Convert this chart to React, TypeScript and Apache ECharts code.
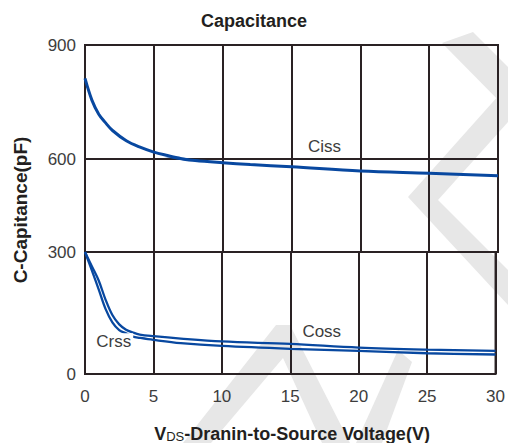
import React, { useEffect, useRef } from "react";
import * as echarts from "echarts";

// ---- data ----
const X_TICKS = [0, 5, 10, 15, 20, 25, 30];
const VOLT_CISS = [0, 0.5, 1, 1.5, 2, 3, 4, 5, 6, 7, 8, 10, 12, 15, 20, 25, 30];
const CISS = [812, 755, 718, 695, 675, 648, 631, 618, 609, 601, 595, 588, 582, 575, 561, 554, 546];
const VOLT_LOW = [0, 0.5, 1, 1.5, 2, 2.5, 3, 3.5, 4, 5, 7, 10, 15, 20, 25, 30];
const COSS = [300, 265, 230, 183, 145, 122, 109, 102, 97, 93, 87, 80, 74, 65, 60, 57];
const CRSS = [300, 255, 208, 160, 127, 108, 100, 92, 89, 84, 76, 69, 62, 57, 51, 48];
const Y_BANDS = [
  [600, 900],
  [300, 600],
  [0, 300],
];

const BLUE = "#0848a0";
const GRID_COLOR = "#2a2224";
const TEXT = "#3d3d3d";
const FONT = "Liberation Sans, Arial, sans-serif";

const pairs = (xs: number[], ys: number[]) => xs.map((x, i) => [x, ys[i]]);

export default function App() {
  const ref = useRef<HTMLDivElement>(null);
  useEffect(() => {
    const chart = echarts.init(ref.current!, null, { renderer: "svg" });
    const gridTops = [45, 159, 252];
    const gridHeights = [114, 93, 122];
    const grids = gridTops.map((t, i) => ({
      left: 85,
      right: 10,
      top: t,
      height: gridHeights[i],
      show: true,
      borderColor: GRID_COLOR,
      borderWidth: 2,
      backgroundColor: "transparent",
    }));
    const xAxes = gridTops.map((_, i) => ({
      type: "value",
      gridIndex: i,
      min: X_TICKS[0],
      max: X_TICKS[X_TICKS.length - 1],
      interval: 5,
      axisLine: { show: false },
      axisTick: { show: false },
      splitLine: { show: true, lineStyle: { color: GRID_COLOR, width: 2 } },
      axisLabel: {
        show: i === 2,
        color: TEXT,
        fontSize: 17,
        fontFamily: FONT,
        margin: 14,
      },
    }));
    const yAxes = Y_BANDS.map((b, i) => ({
      type: "value",
      gridIndex: i,
      min: b[0],
      max: b[1],
      interval: 300,
      axisLine: { show: false },
      axisTick: { show: false },
      splitLine: { show: false },
      axisLabel: {
        color: TEXT,
        fontSize: 17,
        fontFamily: FONT,
        margin: 9,
        showMinLabel: i === 2,
        showMaxLabel: true,
      },
    }));
    const lineBase = {
      type: "line",
      symbol: "none",
      smooth: 0.35,
      clip: true,
    };
    const lbl = (text: string, coord: number[], extra: any = {}) => ({
      symbol: "circle",
      symbolSize: 1,
      itemStyle: { color: "rgba(0,0,0,0)" },
      silent: true,
      data: [
        {
          coord,
          label: {
            show: true,
            position: "inside",
            formatter: text,
            color: TEXT,
            fontSize: 17,
            fontFamily: FONT,
            ...extra,
          },
        },
      ],
    });
    const wm = "#e7e7e7";
    const option: any = {
      animation: false,
      backgroundColor: "#ffffff",
      title: {
        text: "Capacitance",
        left: "center",
        top: 12,
        padding: 0,
        textStyle: { fontSize: 18, fontWeight: "bold", color: "#231f20", fontFamily: FONT },
      },
      grid: grids,
      xAxis: xAxes,
      yAxis: yAxes,
      series: [
        {
          ...lineBase,
          name: "Ciss",
          xAxisIndex: 0,
          yAxisIndex: 0,
          data: pairs(VOLT_CISS, CISS),
          lineStyle: { color: BLUE, width: 3 },
          markPoint: lbl("Ciss", [17.4, 634]),
        },
        {
          ...lineBase,
          name: "Ciss",
          xAxisIndex: 1,
          yAxisIndex: 1,
          data: pairs(VOLT_CISS, CISS),
          lineStyle: { color: BLUE, width: 3 },
        },
        {
          ...lineBase,
          name: "Coss",
          xAxisIndex: 2,
          yAxisIndex: 2,
          data: pairs(VOLT_LOW, COSS),
          lineStyle: { color: BLUE, width: 2.3 },
          markPoint: lbl("Coss", [17.3, 104]),
        },
        {
          ...lineBase,
          name: "Crss",
          xAxisIndex: 2,
          yAxisIndex: 2,
          data: pairs(VOLT_LOW, CRSS),
          lineStyle: { color: BLUE, width: 2.3 },
          markPoint: lbl("Crss", [2.1, 79], {
            backgroundColor: "#ffffff",
            padding: [0, 2, 0, 2],
          }),
        },
      ],
      graphic: [
        // faint watermark strokes
        { type: "polygon", z: -10, silent: true, shape: { points: [[442, 43], [473, 32], [508, 67], [508, 110]] }, style: { fill: wm } },
        { type: "polygon", z: -10, silent: true, shape: { points: [[508, 85], [408, 197], [508, 305], [508, 270], [438, 200], [508, 122]] }, style: { fill: wm } },
        { type: "polygon", z: -10, silent: true, shape: { points: [[183, 443], [276, 325], [290, 325], [350, 443], [322, 443], [283, 358], [211, 443]] }, style: { fill: wm } },
        { type: "polygon", z: -10, silent: true, shape: { points: [[356, 443], [382, 443], [412, 362], [398, 350]] }, style: { fill: wm } },
        {
          type: "text",
          x: 20,
          y: 210,
          rotation: Math.PI / 2,
          style: {
            text: "C-Capitance(pF)",
            fontSize: 19,
            fontWeight: "bold",
            fontFamily: FONT,
            fill: "#231f20",
            align: "center",
            verticalAlign: "middle",
          },
        },
        {
          type: "text",
          x: 292,
          y: 433,
          style: {
            text: "{v|V}{s|DS}{n|-Dranin-to-Source Voltage(V)}",
            fill: "#231f20",
            align: "center",
            verticalAlign: "middle",
            rich: {
              v: { fontSize: 18, fontWeight: "bold", fontFamily: FONT, fill: "#231f20", verticalAlign: "bottom", lineHeight: 20 },
              s: { fontSize: 13, fontWeight: "normal", fontFamily: FONT, fill: "#231f20", verticalAlign: "bottom", lineHeight: 20 },
              n: { fontSize: 18, fontWeight: "bold", fontFamily: FONT, fill: "#231f20", verticalAlign: "bottom", lineHeight: 20 },
            },
          },
        },
      ],
    };
    chart.setOption(option);
    return () => chart.dispose();
  }, []);
  return (
    <div
      ref={ref}
      style={{ position: "fixed", left: 0, top: 0, width: 508, height: 443, background: "#fff" }}
    />
  );
}
